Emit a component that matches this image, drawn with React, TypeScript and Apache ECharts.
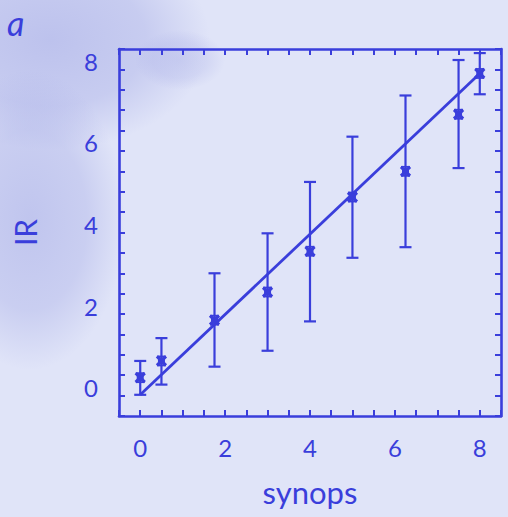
import React, { useEffect, useRef } from "react";
import * as echarts from "echarts";

const xVals = [0, 0.5, 1.75, 3, 4, 5, 6.25, 7.5, 8];
const irVals = [0.44, 0.85, 1.85, 2.54, 3.54, 4.87, 5.5, 6.9, 7.9];
const errLow = [0.02, 0.27, 0.71, 1.1, 1.82, 3.38, 3.64, 5.58, 7.39];
const errHigh = [0.85, 1.41, 3.0, 3.98, 5.24, 6.35, 7.36, 8.23, 8.4];
const fitX = [0, 8];
const fitY = [0.02, 7.9];
const tickLabels = [0, 2, 4, 6, 8];

const BLUE = "#3a3edb";
const FONT = "Lato";

const blot = (a: number) => ({
  type: "radial",
  x: 0.5,
  y: 0.5,
  r: 0.5,
  colorStops: [
    { offset: 0, color: `rgba(160,166,228,${a})` },
    { offset: 0.6, color: `rgba(160,166,228,${a * 0.7})` },
    { offset: 1, color: "rgba(160,166,228,0)" },
  ],
});

export default function App() {
  const ref = useRef<HTMLDivElement>(null);
  useEffect(() => {
    if (!ref.current) return;
    const chart = echarts.init(ref.current, null, { renderer: "svg" });
    const fmt = (v: number) => (tickLabels.includes(Math.round(v * 100) / 100) ? String(v) : "");
    const axisCommon = {
      type: "value",
      min: -0.5,
      max: 8.5,
      interval: 0.5,
      splitLine: { show: false },
      axisLine: { show: true, onZero: false, lineStyle: { color: BLUE, width: 2.6 } },
      axisTick: { show: true, inside: true, length: 6, lineStyle: { color: BLUE, width: 2 } },
    };
    const errData = xVals.map((x, i) => [x, irVals[i], errLow[i], errHigh[i]]);
    chart.setOption({
      animation: false,
      backgroundColor: "#e0e4f8",
      graphic: [
        { type: "ellipse", z: -10, silent: true, shape: { cx: 50, cy: 40, rx: 160, ry: 110 }, style: { fill: blot(0.55) } },
        { type: "ellipse", z: -10, silent: true, shape: { cx: 30, cy: 220, rx: 95, ry: 150 }, style: { fill: blot(0.5) } },
        { type: "ellipse", z: -10, silent: true, shape: { cx: 180, cy: 60, rx: 45, ry: 30 }, style: { fill: blot(0.3) } },
        {
          type: "text",
          left: 7,
          top: 5,
          style: { text: "a", fill: BLUE, font: `italic 34px ${FONT}` },
        },
      ],
      grid: { left: 119, right: 7, top: 49, bottom: 101 },
      xAxis: [
        {
          ...axisCommon,
          position: "bottom",
          name: "synops",
          nameLocation: "middle",
          nameGap: 60,
          nameTextStyle: { color: BLUE, fontSize: 31, fontFamily: FONT },
          axisLabel: { color: BLUE, fontSize: 24, fontFamily: FONT, margin: 19, formatter: fmt },
        },
        { ...axisCommon, position: "top", axisLabel: { show: false } },
      ],
      yAxis: [
        {
          ...axisCommon,
          position: "left",
          name: "IR",
          nameLocation: "middle",
          nameGap: 79,
          nameRotate: 90,
          nameTextStyle: { color: BLUE, fontSize: 30, fontFamily: FONT },
          axisLabel: {
            color: BLUE,
            fontSize: 24,
            fontFamily: FONT,
            margin: 21,
            verticalAlign: "bottom",
            lineHeight: 16,
            formatter: fmt,
          },
        },
        { ...axisCommon, position: "right", axisLabel: { show: false } },
      ],
      series: [
        {
          type: "line",
          data: fitX.map((x, i) => [x, fitY[i]]),
          symbol: "none",
          lineStyle: { color: BLUE, width: 2.8 },
          z: 3,
        },
        {
          type: "custom",
          data: errData,
          encode: { x: 0, y: [1, 2, 3] },
          z: 4,
          renderItem: (params: any, api: any) => {
            const x = api.value(0);
            const p = api.coord([x, api.value(1)]);
            const lo = api.coord([x, api.value(2)]);
            const hi = api.coord([x, api.value(3)]);
            const cap = 6;
            const m = 4.5;
            const ls = { stroke: BLUE, lineWidth: 2.2 };
            return {
              type: "group",
              children: [
                { type: "line", shape: { x1: lo[0], y1: lo[1], x2: hi[0], y2: hi[1] }, style: ls },
                { type: "line", shape: { x1: lo[0] - cap, y1: lo[1], x2: lo[0] + cap, y2: lo[1] }, style: ls },
                { type: "line", shape: { x1: hi[0] - cap, y1: hi[1], x2: hi[0] + cap, y2: hi[1] }, style: ls },
                { type: "line", shape: { x1: p[0] - m, y1: p[1] - m, x2: p[0] + m, y2: p[1] + m }, style: { stroke: BLUE, lineWidth: 3.2 } },
                { type: "line", shape: { x1: p[0] - m, y1: p[1] + m, x2: p[0] + m, y2: p[1] - m }, style: { stroke: BLUE, lineWidth: 3.2 } },
                { type: "line", shape: { x1: p[0] - m, y1: p[1] - m, x2: p[0] + m, y2: p[1] - m }, style: { stroke: BLUE, lineWidth: 1.8 } },
                { type: "line", shape: { x1: p[0] - m, y1: p[1] + m, x2: p[0] + m, y2: p[1] + m }, style: { stroke: BLUE, lineWidth: 1.8 } },
                { type: "rect", shape: { x: p[0] - 3.5, y: p[1] - 3.5, width: 7, height: 7 }, style: { fill: BLUE } },
              ],
            };
          },
        },
      ],
    });
    return () => chart.dispose();
  }, []);
  return <div ref={ref} style={{ position: "absolute", left: 0, top: 0, width: 508, height: 517 }} />;
}
